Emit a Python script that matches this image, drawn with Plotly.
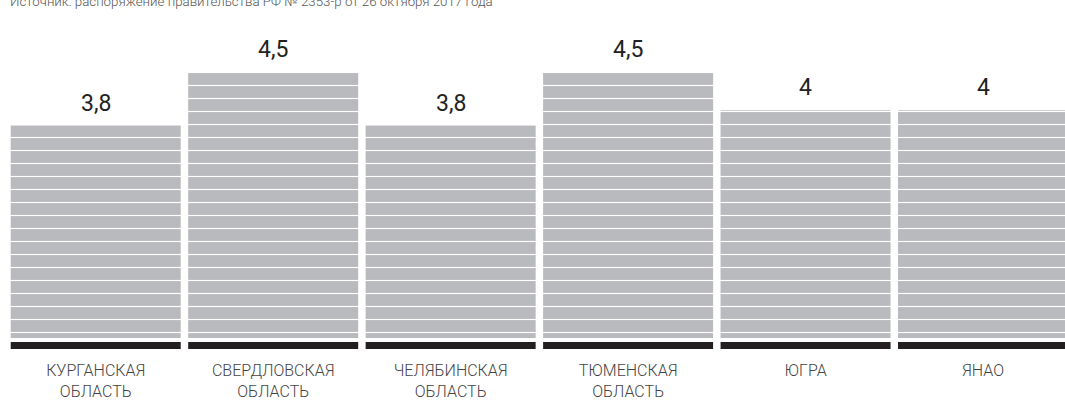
import plotly.graph_objects as go

# ---- data ----
categories = ["КУРГАНСКАЯ<br>ОБЛАСТЬ", "СВЕРДЛОВСКАЯ<br>ОБЛАСТЬ", "ЧЕЛЯБИНСКАЯ<br>ОБЛАСТЬ",
              "ТЮМЕНСКАЯ<br>ОБЛАСТЬ", "ЮГРА", "ЯНАО"]
values = [3.8, 4.5, 3.8, 4.5, 4.0, 4.0]
value_labels = [f"{v:g}".replace(".", ",") for v in values]
source_text = "Источник: распоряжение правительства РФ № 2353-р от 26 октября 2017 года"

# ---- style constants ----
GRAY = "#b9babd"
BLACK = "#231f20"
BAR_BASE = 1.0          # visual floor of the gray bars
BASELINE_BOTTOM = 0.855  # black strip bottom
BASELINE_HEIGHT = 0.092  # black strip thickness
Y_MAX = 5.098

fig = go.Figure()

fig.add_trace(go.Bar(
    x=categories,
    y=[v - BAR_BASE for v in values],
    base=BAR_BASE,
    marker=dict(
        color=GRAY,
        line=dict(width=0),
        pattern=dict(shape="-", fgcolor="white", bgcolor=GRAY,
                     size=13, solidity=0.09, fillmode="replace"),
    ),
    hoverinfo="skip",
    showlegend=False,
))

fig.add_trace(go.Bar(
    x=categories,
    y=[BASELINE_HEIGHT] * len(categories),
    base=BASELINE_BOTTOM,
    marker=dict(color=BLACK, line=dict(width=0)),
    hoverinfo="skip",
    showlegend=False,
))

annotations = []
for c, v, t in zip(categories, values, value_labels):
    annotations.append(dict(
        x=c, y=v, xref="x", yref="y", text=t, showarrow=False,
        yanchor="bottom", yshift=7,
        font=dict(family="Roboto", size=23, color="#222222", weight=400),
    ))

annotations.append(dict(
    x=0, y=1, xref="paper", yref="paper", text=source_text, showarrow=False,
    xanchor="left", yanchor="bottom", xshift=1, yshift=16,
    font=dict(family="Roboto", size=13.3, color="#555555", weight=300),
))

fig.update_layout(
    width=1065, height=410,
    margin=dict(l=7.3, r=0, t=26.5, b=61, pad=0, autoexpand=False),
    paper_bgcolor="white", plot_bgcolor="white",
    barmode="overlay",
    bargap=0.042,
    xaxis=dict(
        range=[-0.5, 5.462],
        showgrid=False, zeroline=False, showline=False, ticks="",
        tickfont=dict(family="Roboto", size=16, color="#444444", weight=300),
        ticklabelstandoff=10,
        automargin=False,
    ),
    yaxis=dict(
        range=[BASELINE_BOTTOM, Y_MAX],
        showgrid=False, zeroline=False, showline=False,
        showticklabels=False, ticks="", automargin=False,
    ),
    annotations=annotations,
)

fig.write_html(
    "out.html",
    config={"displayModeBar": False, "staticPlot": True},
    post_script="document.body.style.margin='0px';document.body.style.overflow='hidden';",
)
